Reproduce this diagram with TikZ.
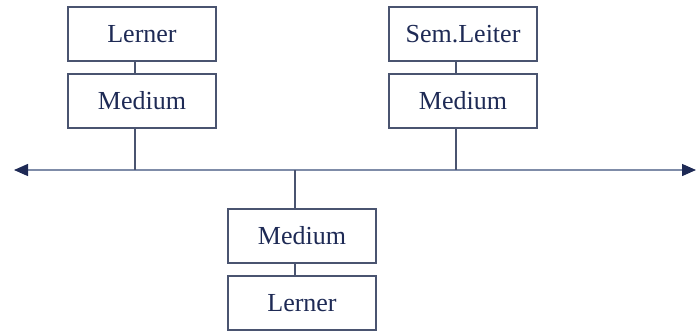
\documentclass[tikz,border=0pt]{standalone}
\usepackage{fontspec}
\setmainfont{Liberation Serif}
\usetikzlibrary{arrows.meta}
\definecolor{ink}{HTML}{1E2A55}
\definecolor{frame}{HTML}{4A5470}
\definecolor{axis}{HTML}{7F8CA8}
\tikzset{
  unit/.style={draw=frame, line width=0.6pt, minimum width=74pt, minimum height=27pt,
    inner sep=0pt, text=ink, font=\fontsize{13}{15}\selectfont},
  link/.style={draw=frame, line width=0.6pt},
  bus/.style={draw=axis, line width=0.7pt,
    {Triangle[length=7pt,width=6pt,fill=ink,color=ink]}-{Triangle[length=7pt,width=6pt,fill=ink,color=ink]}}
}
\begin{document}
\begin{tikzpicture}[x=0.5pt,y=-0.5pt]
\useasboundingbox (0,0) rectangle (700,332);
% left station
\node[unit] (l1) at (142,34) {Lerner};
\node[unit] (l2) at (142,101) {Medium};
% right station
\node[unit] (r1) at (463,34) {Sem.Leiter};
\node[unit] (r2) at (463,101) {Medium};
% bottom station
\node[unit] (b1) at (302,236) {Medium};
\node[unit] (b2) at (302,303) {Lerner};
% shared channel and the taps onto it
\coordinate (west) at (14,170);
\coordinate (east) at (696,170);
\coordinate (tl) at (135,170);
\coordinate (tr) at (456,170);
\coordinate (tb) at (295,170);
\draw[bus] (west) -- (east);
\draw[link] (l1.south -| tl) -- (l2.north -| tl);
\draw[link] (r1.south -| tr) -- (r2.north -| tr);
\draw[link] (b1.south -| tb) -- (b2.north -| tb);
\draw[link] (l2.south -| tl) -- (tl);
\draw[link] (r2.south -| tr) -- (tr);
\draw[link] (tb) -- (b1.north -| tb);
\end{tikzpicture}
\end{document}
